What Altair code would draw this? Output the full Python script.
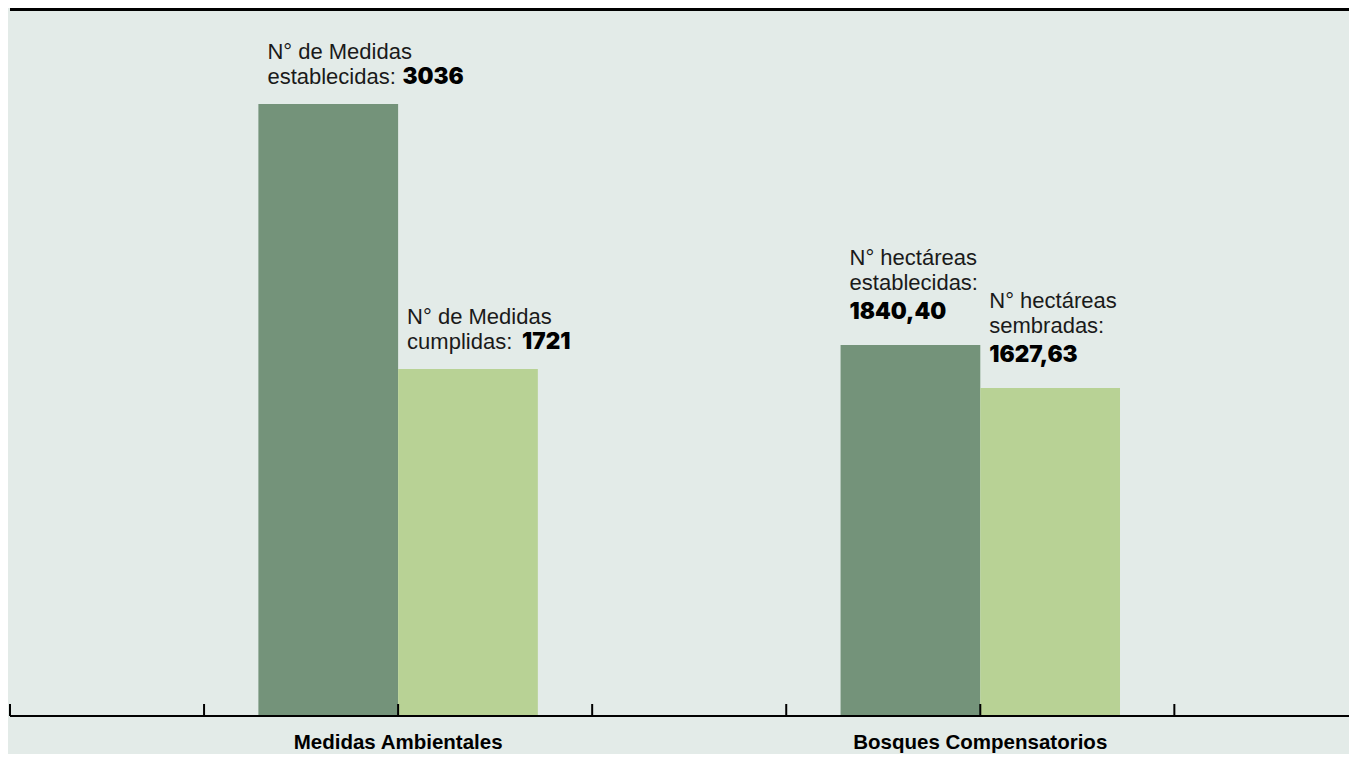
import altair as alt
import pandas as pd

# ---- data ----
categories = ["Medidas Ambientales", "Bosques Compensatorios"]
series = ["establecidas", "cumplidas"]
values_established = [3036, 1840.40]
values_done = [1721, 1627.63]
bold_established = ["3036", "1840,40"]
bold_done = ["1721", "1627,63"]
text_established = [["N° de Medidas", "establecidas:"], ["N° hectáreas", "establecidas:"]]
text_done = [["N° de Medidas", "cumplidas:"], ["N° hectáreas", "sembradas:"]]
inline_number = [True, False]  # number on same line as text (Medidas) or own line (Bosques)
axis_ticks = [0, 1, 2, 3, 4, 5, 6]

# ---- layout constants ----
W, H = 1339, 708
BAR_W = 0.72
DARK, LIGHT, BG = "#74937a", "#b8d295", "#e3ebe8"
FONT = "Liberation Sans"

rows = []
for i, cat in enumerate(categories):
    c = 2 + 3 * i
    rows.append(dict(category=cat, series=series[0], value=values_established[i],
                     x0=c - BAR_W, x1=c, normal="\n".join(text_established[i]),
                     bold=bold_established[i], inline=inline_number[i], key=f"{i}e"))
    rows.append(dict(category=cat, series=series[1], value=values_done[i],
                     x0=c, x1=c + BAR_W, normal="\n".join(text_done[i]),
                     bold=bold_done[i], inline=inline_number[i], key=f"{i}d"))
df = pd.DataFrame(rows)
cat_df = pd.DataFrame({"category": categories, "center": [2 + 3 * i for i in range(len(categories))]})
tick_df = pd.DataFrame({"t": axis_ticks})

xs = alt.Scale(domain=[0, 6.9], nice=False, zero=False, padding=0)
ys = alt.Scale(domain=[0, 3512], nice=False)

base = alt.Chart(df)

bars = base.mark_bar(orient="vertical").encode(
    x=alt.X("x0:Q", scale=xs, axis=None),
    x2="x1:Q",
    y=alt.Y("value:Q", scale=ys, axis=None),
    y2=alt.datum(0),
    color=alt.Color("series:N", scale=alt.Scale(domain=series, range=[DARK, LIGHT]), legend=None),
)

ticks = alt.Chart(tick_df).mark_rule(color="black", strokeWidth=2).encode(
    x=alt.X("t:Q", scale=xs, axis=None),
    y=alt.value(H - 12),
    y2=alt.value(H),
)

axis_line = alt.Chart(tick_df).mark_rule(color="black", strokeWidth=2).encode(
    x=alt.value(0), x2=alt.value(W), y=alt.value(H)
)

top_line = alt.Chart(tick_df).mark_rule(color="black", strokeWidth=3).encode(
    x=alt.value(0), x2=alt.value(W), y=alt.value(1.5)
)

cat_labels = alt.Chart(cat_df).mark_text(font=FONT, fontSize=20.5, fontWeight="bold",
                                         baseline="alphabetic", color="black").encode(
    x=alt.X("center:Q", scale=xs, axis=None),
    y=alt.value(H + 33),
    text="category:N",
)

txt_common = dict(font=FONT, fontSize=22, align="left", baseline="alphabetic",
                  lineBreak="\n", lineHeight=25, color="#1a1a1a")

normal_inline = base.transform_filter("datum.inline").mark_text(dx=9, dy=-45, **txt_common).encode(
    x=alt.X("x0:Q", scale=xs, axis=None), y=alt.Y("value:Q", scale=ys, axis=None), text="normal:N")
normal_stacked = base.transform_filter("!datum.inline").mark_text(dx=9, dy=-80, **txt_common).encode(
    x=alt.X("x0:Q", scale=xs, axis=None), y=alt.Y("value:Q", scale=ys, axis=None), text="normal:N")

bold_common = dict(font="Inter", fontSize=22.5, fontWeight=900, align="left",
                   baseline="alphabetic", color="black")

bold_layers = []
for key, dx in [("0e", 144), ("0d", 124)]:
    bold_layers.append(
        base.transform_filter(f"datum.key == '{key}'").mark_text(dx=dx, dy=-20, **bold_common).encode(
            x=alt.X("x0:Q", scale=xs, axis=None), y=alt.Y("value:Q", scale=ys, axis=None), text="bold:N"))
bold_layers.append(
    base.transform_filter("!datum.inline").mark_text(dx=9, dy=-26, **bold_common).encode(
        x=alt.X("x0:Q", scale=xs, axis=None), y=alt.Y("value:Q", scale=ys, axis=None), text="bold:N"))

chart = alt.layer(bars, ticks, axis_line, top_line, cat_labels, normal_inline, normal_stacked,
                  *bold_layers).properties(
    width=W, height=H,
    autosize=alt.AutoSizeParams(type="none"),
    padding={"left": 2, "top": 0, "right": 0, "bottom": 38},
    background=BG,
).configure_view(stroke=None)

chart.save("out.html", embed_options={"renderer": "svg", "actions": False})
